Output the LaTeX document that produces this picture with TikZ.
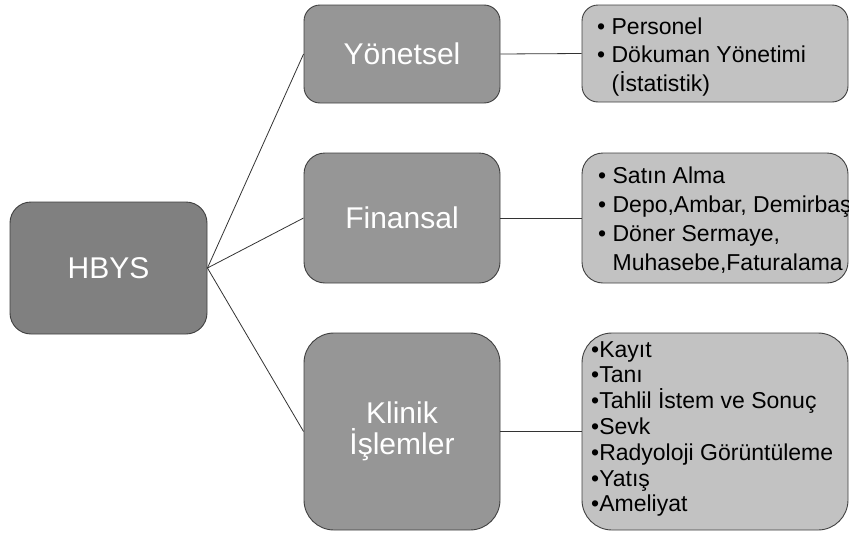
\documentclass[tikz,border=0pt]{standalone}
\usepackage{fontspec}
\setmainfont{Liberation Sans}
\begin{document}
\begin{tikzpicture}[x=1pt,y=-1pt,
  box/.style={draw=black!75,line width=0.9pt,inner sep=0pt,align=center},
  root/.style={box,fill=black!50,text=white,font=\fontsize{30}{31}\selectfont},
  branch/.style={box,fill=black!41,text=white,font=\fontsize{30}{31}\selectfont},
  leafbox/.style={box,fill=black!24},
  item/.style={inner sep=0pt,anchor=base west,font=\fontsize{23}{28}\selectfont},
  link/.style={draw=black!80,line width=0.8pt}]
\useasboundingbox (0,0) rectangle (849,533);

% top level
\node[root,minimum width=197pt,minimum height=132pt,rounded corners=21pt] (hbys) at (108.5,268) {HBYS};

% second level
\node[branch,minimum width=196pt,minimum height=98pt,rounded corners=16pt] (yon) at (402,54) {Yönetsel};
\node[branch,minimum width=196pt,minimum height=130pt,rounded corners=21pt] (fin) at (402,218) {Finansal};
\node[branch,minimum width=196pt,minimum height=197pt,rounded corners=30pt] (kli) at (402,431.5) {Klinik\\İşlemler};

% detail boxes
\node[leafbox,minimum width=266pt,minimum height=97pt,rounded corners=16pt] (dyon) at (715,53.5) {};
\node[leafbox,minimum width=266pt,minimum height=130pt,rounded corners=21pt] (dfin) at (715,218) {};
\node[leafbox,minimum width=266pt,minimum height=197pt,rounded corners=30pt] (dkli) at (715,431.5) {};

% connectors
\draw[link] (hbys.east) -- (yon.west);
\draw[link] (hbys.east) -- (fin.west);
\draw[link] (hbys.east) -- (kli.west);
\draw[link] (yon.east) -- (dyon.west);
\draw[link] (fin.east) -- (dfin.west);
\draw[link] (kli.east) -- (dkli.west);

% detail lists
\foreach \t [count=\i] in {{• Personel},{• Dökuman Yönetimi},{\hphantom{• }(İstatistik)}}
  \node[item] (ya\i) at (597,{34+28.5*(\i-1)}) {\t};
\foreach \t [count=\i] in {{• Satın Alma},{• Depo,Ambar, Demirbaş},{• Döner Sermaye,},{\hphantom{• }Muhasebe,Faturalama}}
  \node[item] (fa\i) at (598,{183+29*(\i-1)}) {\t};
\foreach \t [count=\i] in {{•Kayıt},{•Tanı},{•Tahlil İstem ve Sonuç},{•Sevk},{•Radyoloji Görüntüleme},{•Yatış},{•Ameliyat}}
  \node[item] (ka\i) at (591,{357+25.8*(\i-1)}) {\t};
\end{tikzpicture}
\end{document}
